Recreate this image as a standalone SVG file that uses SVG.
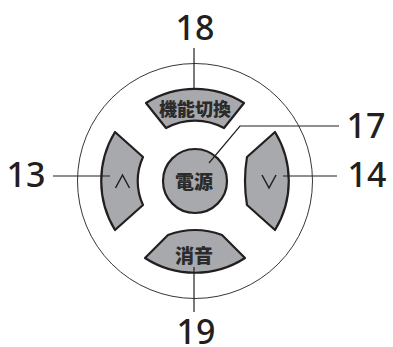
<svg xmlns="http://www.w3.org/2000/svg" width="393" height="347" viewBox="0 0 393 347">
<style>
.btn{fill:#a7a9ac;stroke:#231f20;stroke-width:2.2;stroke-linejoin:round}
.lead{fill:none;stroke:#231f20;stroke-width:1.2}
.num{font-family:"Noto Sans","Open Sans",sans-serif;font-size:34px;font-weight:500;fill:#231f20;text-anchor:middle}
.lbl{font-family:"Noto Sans CJK JP",sans-serif;font-weight:900;fill:#2b2b2b;text-anchor:middle}
.chev{fill:none;stroke:#231f20;stroke-width:1.5;stroke-linejoin:miter}
</style>
<rect width="393" height="347" fill="#fff"/>
<circle id="ring" cx="195" cy="181" r="117.5" fill="#fff" stroke="#231f20" stroke-width="0.9"/>
<g id="btn18">
<path class="btn" d="M146,103 A92,92 0 0 1 244,103 L224,128 A60,60 0 0 0 166,128 Z"/>
<text class="lbl" x="195" y="116" font-size="18">機能切換</text>
</g>
<g id="btn13">
<path class="btn" d="M115,132 A94,94 0 0 0 115,230 L143,205 A57,57 0 0 1 143,157 Z"/>
<polyline class="chev" points="115.5,188 122.5,175 129.5,188"/>
</g>
<g id="btn14">
<path class="btn" d="M275,132 A94,94 0 0 1 275,230 L247,205 Q243,181 247,157 Z"/>
<polyline class="chev" points="262,175 269,188 276,175"/>
</g>
<g id="btn17">
<circle class="btn" cx="195" cy="181" r="32"/>
<text class="lbl" x="194" y="189" font-size="19">電源</text>
</g>
<g id="btn19">
<path class="btn" d="M145,258 A92,92 0 0 0 245,258 L222,235 Q195,225 168,235 Z"/>
<text class="lbl" x="194" y="263" font-size="19">消音</text>
</g>
<g id="connectors">
<line class="lead" x1="194" y1="48" x2="194" y2="90"/>
<line class="lead" x1="53" y1="176" x2="110" y2="176"/>
<line class="lead" x1="283" y1="176" x2="337" y2="176"/>
<polyline class="lead" points="339,126 240,126 209,163"/>
<line class="lead" x1="194" y1="267" x2="194" y2="312"/>
</g>
<g id="labels">
<text class="num" x="195" y="40">18</text>
<text class="num" x="26" y="187">13</text>
<text class="num" x="367" y="187">14</text>
<text class="num" x="366" y="138">17</text>
<text class="num" x="196" y="344">19</text>
</g>
</svg>
